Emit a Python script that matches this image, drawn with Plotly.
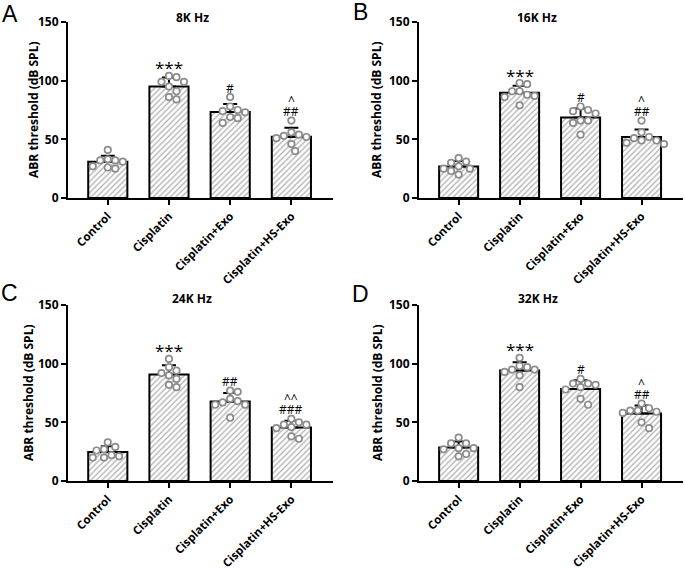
import numpy as np
import plotly.graph_objects as go

W, H = 685, 568

groups = ["Control", "Cisplatin", "Cisplatin+Exo", "Cisplatin+HS-Exo"]
panel_titles = ["8K Hz", "16K Hz", "24K Hz", "32K Hz"]
panel_letters = ["A", "B", "C", "D"]

# ABR thresholds (dB SPL), n = 8 per group
hz8_control = [31, 25, 33, 41, 32, 26, 32, 27]
hz8_cisplatin = [104, 99, 99, 103, 95, 91, 84, 86]
hz8_exo = [86, 75, 78, 73, 74, 64, 69, 68]
hz8_hsexo = [66, 54, 51, 52, 56, 46, 40, 53]

hz16_control = [31, 25, 20, 30, 25, 34, 27, 23]
hz16_cisplatin = [91, 98, 97, 87, 91, 86, 88, 79]
hz16_exo = [75, 78, 74, 66, 72, 64, 66, 54]
hz16_hsexo = [66, 56, 49, 47, 51, 52, 46, 49]

hz24_control = [33, 26, 20, 21, 27, 20, 29, 22]
hz24_cisplatin = [104, 94, 92, 97, 90, 87, 80, 82]
hz24_exo = [68, 76, 77, 70, 65, 67, 65, 54]
hz24_hsexo = [48, 50, 45, 48, 53, 46, 36, 38]

hz32_control = [32, 27, 32, 37, 21, 28, 23, 28]
hz32_cisplatin = [105, 95, 97, 98, 95, 90, 93, 80]
hz32_exo = [87, 80, 83, 82, 83, 78, 70, 65]
hz32_hsexo = [66, 62, 59, 60, 58, 60, 50, 45]

panels_data = [
    [hz8_control, hz8_cisplatin, hz8_exo, hz8_hsexo],
    [hz16_control, hz16_cisplatin, hz16_exo, hz16_hsexo],
    [hz24_control, hz24_cisplatin, hz24_exo, hz24_hsexo],
    [hz32_control, hz32_cisplatin, hz32_exo, hz32_hsexo],
]

# significance marks per group, listed bottom to top
sig_8k = [[], ["***"], ["#"], ["##", "^"]]
sig_16k = [[], ["***"], ["#"], ["##", "^"]]
sig_24k = [[], ["***"], ["##"], ["###", "^^"]]
sig_32k = [[], ["***"], ["#"], ["##", "^"]]
panels_sig = [sig_8k, sig_16k, sig_24k, sig_32k]

y_ticks = [0, 50, 100, 150]
y_range = [0, 150]
x_range = [-0.65, 3.68]

# panel plot areas in pixels: (x0, x1, ytop, ybottom)
boxes = [(68, 333, 22, 198), (419, 683, 22, 198), (68, 333, 305, 481), (419, 683, 305, 481)]
title_pos = [(192, 18), (537, 18), (192, 298), (538, 298)]
letter_pos = [(10, 14), (360, 12), (9, 293), (360, 294)]
ytitle_pos = [(34, 110), (377, 110), (28, 393), (377, 393)]

FONT = "Open Sans"
PT_COLOR = "#8c8c8c"


def swarm_offsets(values, px_per_x, px_per_y, diam=7.5):
    vals = np.asarray(values, dtype=float)
    order = np.argsort(-vals, kind="stable")
    placed = []
    offs = np.zeros(len(vals))
    cands = [0.0]
    for k in range(1, 12):
        cands += [k * diam * 0.5, -k * diam * 0.5]
    for i in order:
        yi = vals[i] * px_per_y
        for c in cands:
            ok = True
            for (px, py) in placed:
                if (c - px) ** 2 + (yi - py) ** 2 < diam ** 2:
                    ok = False
                    break
            if ok:
                offs[i] = c
                placed.append((c, yi))
                break
    return offs / px_per_x


fig = go.Figure()
layout = dict(
    width=W, height=H, margin=dict(l=0, r=0, t=0, b=0, autoexpand=False),
    paper_bgcolor="white", plot_bgcolor="white", showlegend=False,
    font=dict(family=FONT, color="black"),
)
annotations = []

for p in range(4):
    x0, x1, yt, yb = boxes[p]
    sfx = "" if p == 0 else str(p + 1)
    xa, ya = "x" + sfx, "y" + sfx
    px_per_x = (x1 - x0) / (x_range[1] - x_range[0])
    px_per_y = (yb - yt) / (y_range[1] - y_range[0])

    data = panels_data[p]
    means = [float(np.mean(v)) for v in data]
    sds = [float(np.std(v, ddof=1)) for v in data]
    pos = list(range(len(groups)))

    fig.add_trace(go.Bar(
        x=pos, y=means, width=0.64, xaxis=xa, yaxis=ya,
        marker=dict(color="white", line=dict(color="black", width=2),
                    pattern=dict(shape="/", fgcolor="#5c5c5c", bgcolor="white", size=4, solidity=0.3)),
        error_y=dict(type="data", symmetric=False, array=sds, arrayminus=[0] * len(sds),
                     color="black", thickness=2, width=7),
    ))
    for g, vals in enumerate(data):
        offs = swarm_offsets(vals, px_per_x, px_per_y)
        fig.add_trace(go.Scatter(
            x=[g + o for o in offs], y=vals, mode="markers", xaxis=xa, yaxis=ya,
            marker=dict(symbol="circle", size=6.5, color="white",
                        line=dict(color=PT_COLOR, width=1.7)),
            cliponaxis=False,
        ))
        # significance labels
        top = max(max(vals), means[g] + sds[g])
        for k, s in enumerate(panels_sig[p][g]):
            big = s.startswith("*")
            annotations.append(dict(
                x=g, y=top, xref=xa, yref=ya, text=s, showarrow=False,
                yanchor="middle", yshift=(8 if big else 9) + 11 * k,
                font=dict(size=17 if big else 12, family=FONT, color="black"),
            ))

    layout["xaxis" + sfx] = dict(
        domain=[x0 / W, x1 / W], anchor=ya, range=x_range, automargin=False,
        tickvals=pos, ticktext=groups, tickangle=-45,
        ticks="outside", ticklen=5, tickwidth=2, tickcolor="black",
        showline=True, linewidth=2, linecolor="black", showgrid=False, zeroline=False,
        tickfont=dict(size=11.5, family=FONT, weight="bold", color="black"),
    )
    layout["yaxis" + sfx] = dict(
        domain=[1 - yb / H, 1 - yt / H], anchor=xa, range=y_range, automargin=False,
        tickvals=y_ticks, ticks="outside", ticklen=5, tickwidth=2, tickcolor="black",
        showline=True, linewidth=2, linecolor="black", showgrid=False, zeroline=False,
        tickfont=dict(size=12, family=FONT, weight="bold", color="black"),
    )

    tx, ty = title_pos[p]
    annotations.append(dict(x=tx / W, y=1 - ty / H, xref="paper", yref="paper", text=panel_titles[p],
                            showarrow=False, xanchor="center", yanchor="middle",
                            font=dict(size=12, family=FONT, weight="bold", color="black")))
    lx, ly = letter_pos[p]
    annotations.append(dict(x=lx / W, y=1 - ly / H, xref="paper", yref="paper", text=panel_letters[p],
                            showarrow=False, xanchor="center", yanchor="middle",
                            font=dict(size=23, family="Liberation Sans", color="black")))
    ax_, ay_ = ytitle_pos[p]
    annotations.append(dict(x=ax_ / W, y=1 - ay_ / H, xref="paper", yref="paper",
                            text="ABR threshold (dB SPL)", textangle=-90,
                            showarrow=False, xanchor="center", yanchor="middle",
                            font=dict(size=12, family=FONT, weight="bold", color="black")))

layout["annotations"] = annotations
fig.update_layout(**layout)
fig.write_html("out.html", config={"displayModeBar": False},
               post_script="document.body.style.margin='0';document.body.style.overflow='hidden';")
